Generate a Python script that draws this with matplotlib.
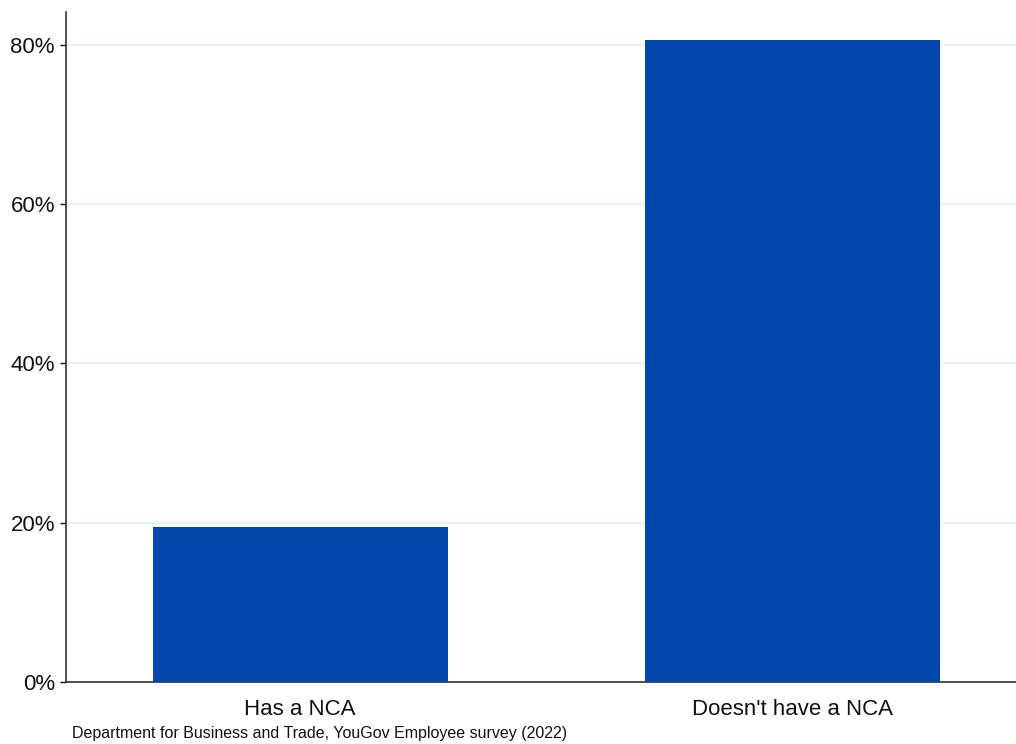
import matplotlib.pyplot as plt
from matplotlib.ticker import FuncFormatter

categories = ["Has a NCA", "Doesn't have a NCA"]
shares = [19.4, 80.6]
yticks = [0, 20, 40, 60, 80]
source = "Department for Business and Trade, YouGov Employee survey (2022)"

plt.rcParams['font.family'] = ['Liberation Sans', 'DejaVu Sans']

fig = plt.figure(figsize=(10.16, 7.44), dpi=100)
ax = fig.add_axes([0.065, 0.0833, 0.935, 0.9007])

x = list(range(len(categories)))
ax.bar(x, shares, width=0.6, color='#0047AB', zorder=3)

ax.set_xlim(-0.476, 1.455)
ax.set_ylim(0, 84.1)
ax.set_yticks(yticks)
ax.yaxis.set_major_formatter(FuncFormatter(lambda v, p: f"{v:.0f}%"))
ax.set_xticks(x)
ax.set_xticklabels(categories)
ax.tick_params(axis='y', labelsize=16, colors='#111111', length=4, width=1, pad=4)
ax.tick_params(axis='x', labelsize=16, colors='#111111', length=0, pad=12)
ax.grid(axis='y', color='#eaf2f2', linewidth=1.5, zorder=0)

for side in ['top', 'right']:
    ax.spines[side].set_visible(False)
for side in ['left', 'bottom']:
    ax.spines[side].set_color('#333333')
    ax.spines[side].set_linewidth(1.2)

fig.text(0.071, 0.0145, source, fontsize=11.5, color='#111111', ha='left', va='center')

fig.savefig('out.png', dpi=100)
